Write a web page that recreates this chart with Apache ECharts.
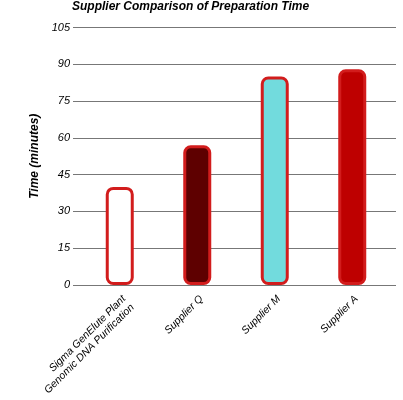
<!DOCTYPE html>
<html>
<head>
<meta charset="utf-8">
<script src="https://cdn.jsdelivr.net/npm/echarts@6/dist/echarts.min.js"></script>
<style>html,body{margin:0;padding:0;background:#fff}#c{width:403px;height:400px}</style>
</head>
<body>
<div id="c"></div>
<script>
const categories = ["Sigma GenElute Plant\nGenomic DNA Purification", "Supplier Q", "Supplier M", "Supplier A"];
const times = [40, 57, 85, 88];
const fillColors = ["#ffffff", "#5e0000", "#72dbdd", "#be0000"];
const yTicks = [0, 15, 30, 45, 60, 75, 90, 105];

const FONT = "Liberation Sans";
const chart = echarts.init(document.getElementById('c'), null, {renderer: 'canvas'});
chart.setOption({
  animation: false,
  backgroundColor: '#fff',
  title: {
    text: 'Supplier Comparison of Preparation Time',
    left: 67, top: -4,
    textStyle: {fontFamily: FONT, fontSize: 12, fontWeight: 'bold', fontStyle: 'italic', color: '#000'}
  },
  grid: {left: 81, right: 12, top: 27.5, bottom: 115},
  xAxis: {
    type: 'category',
    data: categories,
    axisLine: {show: false},
    axisTick: {show: false},
    axisLabel: {
      interval: 0, rotate: 45, margin: 8,
      verticalAlign: 'top',
      fontFamily: FONT, fontSize: 10.5, fontStyle: 'italic', color: '#000', lineHeight: 12
    }
  },
  yAxis: [{
    type: 'value',
    min: yTicks[0], max: yTicks[yTicks.length - 1], interval: 15,
    name: 'Time (minutes)',
    nameLocation: 'middle', nameGap: 36,
    nameTextStyle: {fontFamily: FONT, fontSize: 12, fontWeight: 'bold', fontStyle: 'italic', color: '#000'},
    axisLine: {show: false},
    axisTick: {show: true, length: 8, lineStyle: {color: '#777'}},
    axisLabel: {margin: 11, fontFamily: FONT, fontSize: 11, fontStyle: 'italic', color: '#000'},
    splitLine: {show: true, lineStyle: {color: '#777', width: 1}}
  }, {
    type: 'value', position: 'right',
    min: yTicks[0], max: yTicks[yTicks.length - 1], interval: 15,
    axisLine: {show: false},
    axisTick: {show: true, length: 5, lineStyle: {color: '#777'}},
    axisLabel: {show: false},
    splitLine: {show: false}
  }],
  series: [{
    type: 'bar',
    data: times.map((v, i) => ({value: v, itemStyle: {color: fillColors[i]}})),
    barWidth: 28,
    itemStyle: {borderColor: '#d21c1c', borderWidth: 3, borderRadius: 6}
  }]
});
</script>
</body>
</html>
